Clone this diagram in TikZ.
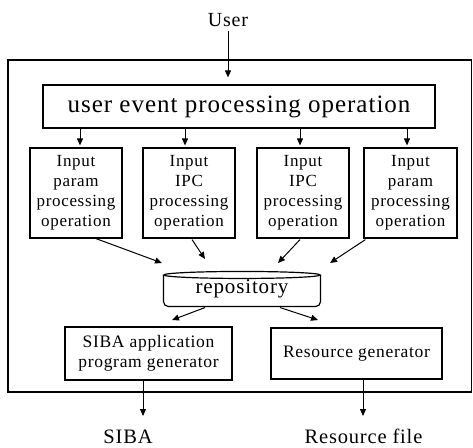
\documentclass[tikz,border=0pt]{standalone}
\usepackage{fontspec}
\setmainfont{Liberation Serif}[LetterSpace=4]
\usetikzlibrary{arrows.meta,calc}
\begin{document}
\begin{tikzpicture}[x=1pt,y=-1pt,
  line width=1.1pt,
  arr/.style={-{Triangle[length=7pt,width=6pt]},line width=1pt},
  subbox/.style={draw,line width=1.2pt,minimum height=90pt,inner sep=0pt,align=center,font=\fontsize{17}{20}\selectfont},
  genbox/.style={draw,line width=1.2pt,inner sep=0pt,align=center,font=\fontsize{17.5}{20}\selectfont},
  lbl/.style={inner sep=0pt,font=\fontsize{20.5}{24}\selectfont}]
\useasboundingbox (0,0) rectangle (473,447);
% outer frame
\draw[line width=1.2pt] (8,60) rectangle (471.5,392);
% user
\node[lbl,font=\fontsize{20}{24}\selectfont] (user) at (228,20) {User};
% top box
\node[draw,line width=1.2pt,minimum width=392pt,minimum height=43pt,inner sep=0pt,font=\fontsize{25}{28}\selectfont] (top) at (239,106.5) {user event processing operation};
% sub boxes
\node[subbox,minimum width=92pt] (s1) at (76,193) {Input\\param\\processing\\operation};
\node[subbox,minimum width=92pt] (s2) at (189,193) {Input\\IPC\\processing\\operation};
\node[subbox,minimum width=92pt] (s3) at (303,193) {Input\\IPC\\processing\\operation};
\node[subbox,minimum width=93pt] (s4) at (410.5,193) {Input\\param\\processing\\operation};
% repository
\node[minimum width=156pt,minimum height=34pt,inner sep=0pt,font=\fontsize{21}{24}\selectfont] (repo) at (242,289) {\raisebox{-2pt}{repository}};
\draw[line width=1.2pt] ($(repo.north)+(0,3.5)$) ellipse [x radius=78, y radius=3.5];
\draw[line width=1.2pt,rounded corners=5pt] ($(repo.north west)+(0,3.5)$) -- (repo.south west) -- (repo.south east) -- ($(repo.north east)+(0,3.5)$);
% generators
\node[genbox,minimum width=167pt,minimum height=53pt] (siba) at (148.5,353.5) {SIBA application\\program generator};
\node[genbox,minimum width=171pt,minimum height=51pt] (res) at (356.5,353.5) {Resource generator};
% outputs
\node[lbl,anchor=base] (out1) at (128,443) {SIBA};
\node[lbl,anchor=base] (out2) at (363.5,443) {Resource file};
% coordinates
\coordinate (r1) at (162,263);
\coordinate (r2) at (205,259);
\coordinate (r3) at (278,263);
\coordinate (r4) at (330,263);
\coordinate (g1) at (172,320);
\coordinate (g2) at (318,320);
\coordinate (o1) at (143,416);
\coordinate (o2) at (363,416);
% connectors
\draw[arr] (user.south -| 228,0) ++(0,4) -- ($(top.north -| 228,0)+(0,-7)$);
\draw[arr] (top.south -| 80,0) -- ($(s1.north -| 80,0)+(0,-2)$);
\draw[arr] (top.south -| 185,0) -- ($(s2.north -| 185,0)+(0,-2)$);
\draw[arr] (top.south -| 300,0) -- ($(s3.north -| 300,0)+(0,-2)$);
\draw[arr] (top.south -| 407,0) -- ($(s4.north -| 407,0)+(0,-2)$);
\draw[arr] ($(s1.south)+(20,0)$) -- (r1);
\draw[arr] ($(s2.south)+(3,1)$) -- (r2);
\draw[arr] ($(s3.south)+(-3,1)$) -- (r3);
\draw[arr] ($(s4.south west)+(2,1)$) -- (r4);
\draw[arr] ($(repo.south)+(-37,1)$) -- (g1);
\draw[arr] ($(repo.south)+(38,1)$) -- (g2);
\draw[arr] (siba.south -| o1) -- (o1);
\draw[arr] (res.south -| o2) -- (o2);
\end{tikzpicture}
\end{document}
